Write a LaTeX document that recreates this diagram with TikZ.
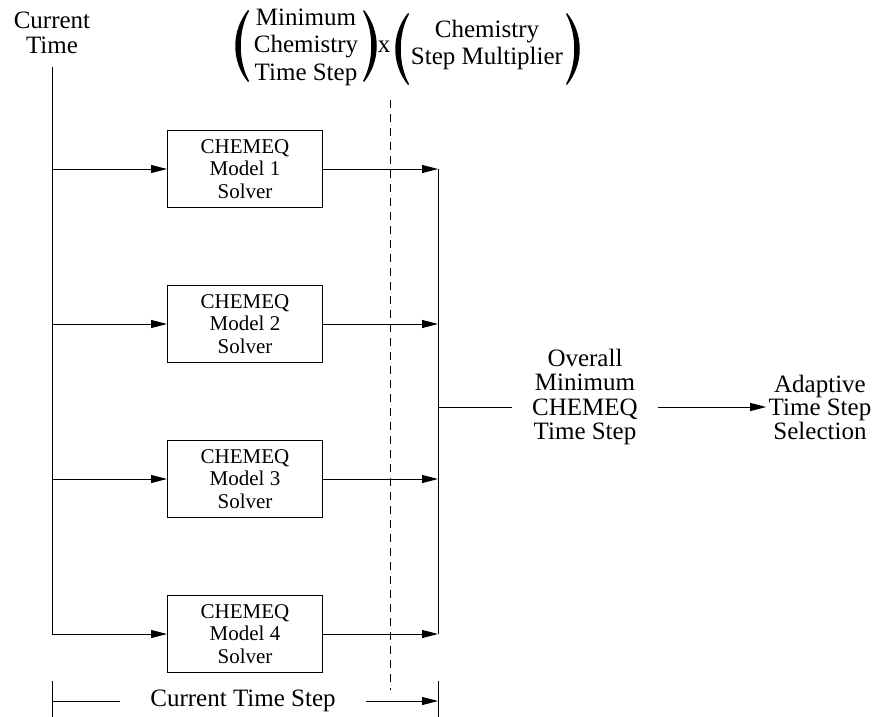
\documentclass[tikz,border=0pt]{standalone}
\usepackage{fontspec}
\setmainfont{Liberation Serif}
\usepackage{tikz}
\usetikzlibrary{positioning, arrows.meta}

\tikzset{
	paren/.pic={
		\fill (7,-36) .. controls (-10,-15) and (-10,15) .. (7,36) -- (8,35) .. controls (-3,15) and (-3,-15) .. (8,-35) -- cycle;
	}
}

\begin{document}
\begin{tikzpicture}[x=1pt, y=-1pt, line width=1pt,
	lbl/.style={align=center, inner sep=0pt, font=\fontsize{25}{24}\selectfont},
	factor/.style={lbl, font=\fontsize{25}{27.5}\selectfont},
	solver/.style={draw, align=center, inner sep=0pt, minimum width=155pt, minimum height=77pt, font=\fontsize{21}{22.5}\selectfont},
	flow/.style={-{Triangle[length=16pt,width=8pt]}}]
	\useasboundingbox (0,0) rectangle (876,717);
	
	% time step factors on top
	\node[factor] (mct) at (306,47) {Minimum\\Chemistry\\Time Step};
	\node[factor, anchor=base] (times) at (384,53) {x};
	\node[factor] (csm) at (487,45) {Chemistry\\Step Multiplier};
	\pic at (241,46) {paren};
	\pic[xscale=-1] at (371,46) {paren};
	\pic at (401,49) {paren};
	\pic[xscale=-1] at (574,49) {paren};
	
	% the four solvers
	\node[lbl, font=\fontsize{25}{24.5}\selectfont, outer ysep=13pt] (ct) at (52,33) {Current\\Time};
	\node[solver] (s1) at (245,169) {CHEMEQ\\Model 1\\Solver};
	\node[solver, below=77pt of s1] (s2) {CHEMEQ\\Model 2\\Solver};
	\node[solver, below=77pt of s2] (s3) {CHEMEQ\\Model 3\\Solver};
	\node[solver, below=77pt of s3] (s4) {CHEMEQ\\Model 4\\Solver};
	
	\coordinate[right=193pt of s1.center] (r1);
	\coordinate[right=193pt of s4.center] (r4);
	
	\node[lbl, font=\fontsize{25}{24.5}\selectfont, inner xsep=20pt] (over) at (585,397) {Overall\\Minimum\\CHEMEQ\\Time Step};
	\node[lbl, font=\fontsize{25}{23.5}\selectfont, inner xsep=2pt] (adapt) at (820,407) {Adaptive\\Time Step\\Selection};
	\coordinate (j) at (r1 |- adapt);
	
	\draw (ct.south) -- (ct |- s4);
	\foreach \i in {1,...,4} {
		\draw[flow] (ct |- s\i) -- (s\i);
		\draw[flow] (s\i) -- (s\i -| r1);
	}
	\draw (r1) -- (r4);
	\draw (j) -- (over.west |- j);
	\draw[flow] (over.east |- adapt) -- (adapt);
	
	\draw[dash pattern=on 8pt off 6pt] (390,100) -- (390,690);
	
	% current time step span
	\node[lbl, inner xsep=30pt] (cts) at (243,701) {Current Time Step};
	\coordinate (bl) at (ct |- cts);
	\coordinate (br) at (r1 |- cts);
	\draw ([yshift=20pt]bl) -- ([yshift=-17pt]bl);
	\draw ([yshift=20pt]br) -- ([yshift=-17pt]br);
	\draw (bl) -- (cts);
	\draw[flow] (cts) -- (br);
\end{tikzpicture}
\end{document}
